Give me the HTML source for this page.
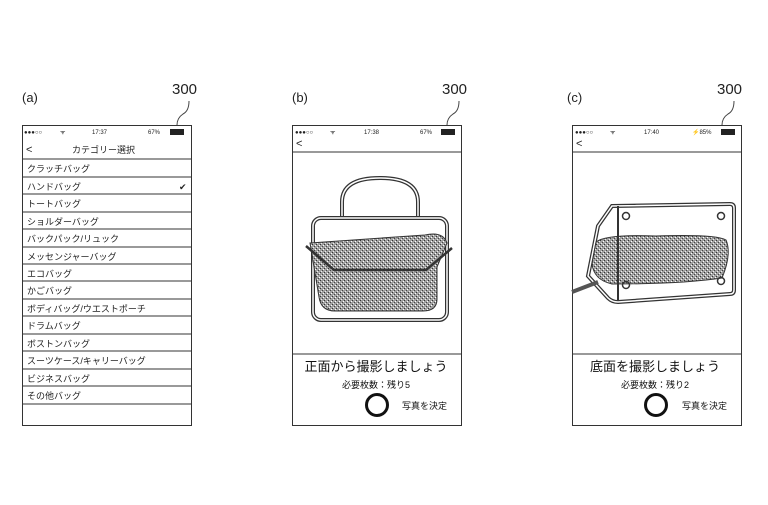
<!DOCTYPE html>
<html><head><meta charset="utf-8"><style>
html,body{margin:0;padding:0;background:#fff;}
svg{display:block;font-family:"Liberation Sans","Noto Sans CJK JP",sans-serif;}
</style></head><body>
<svg width="768" height="505" viewBox="0 0 768 505" xmlns="http://www.w3.org/2000/svg">
<defs>
<pattern id="st" width="4" height="4" patternUnits="userSpaceOnUse">
<rect width="4" height="4" fill="#a0a0a0"/><rect x="0" y="0" width="1" height="1" fill="#333"/><rect x="2" y="2" width="1" height="1" fill="#444"/><rect x="3" y="1" width="1" height="1" fill="#fff"/><rect x="1" y="3" width="1" height="1" fill="#eee"/>
</pattern>
</defs>
<g fill="#222" font-size="13">
<text x="22" y="102">(a)</text><text x="292" y="102">(b)</text><text x="567" y="102">(c)</text>
<text x="172" y="94" font-size="15">300</text><text x="442" y="94" font-size="15">300</text><text x="717" y="94" font-size="15">300</text>
</g>
<g fill="none" stroke="#444" stroke-width="1">
<path d="M189 101 q0 10 -6 13 q-6 4 -6 11"/>
<path d="M459 101 q0 10 -6 13 q-6 4 -6 11"/>
<path d="M734 101 q0 10 -6 13 q-6 4 -6 11"/>
</g>
<!-- phone a -->
<g stroke="#333" fill="none" stroke-width="1">
<rect x="22.5" y="125.5" width="169" height="300"/>
<line x1="22" y1="159" x2="191" y2="159"/><line x1="22" y1="177" x2="191" y2="177"/><line x1="22" y1="194" x2="191" y2="194"/><line x1="22" y1="212" x2="191" y2="212"/><line x1="22" y1="229" x2="191" y2="229"/><line x1="22" y1="247" x2="191" y2="247"/><line x1="22" y1="264" x2="191" y2="264"/><line x1="22" y1="281" x2="191" y2="281"/><line x1="22" y1="299" x2="191" y2="299"/><line x1="22" y1="316" x2="191" y2="316"/><line x1="22" y1="334" x2="191" y2="334"/><line x1="22" y1="351" x2="191" y2="351"/><line x1="22" y1="369" x2="191" y2="369"/><line x1="22" y1="386" x2="191" y2="386"/><line x1="22" y1="404" x2="191" y2="404"/>
</g>
<g fill="#222" font-size="6"><text x="24" y="134">●●●○○</text><text x="60" y="134">ᯤ</text><text x="92" y="134">17:37</text><text x="148" y="134">67%</text><rect x="170" y="129" width="14" height="6" fill="#222"/></g>
<g fill="#222" font-size="9">
<text x="26" y="153" font-size="11">&lt;</text><text x="72" y="153">カテゴリー選択</text>
<text x="27" y="172">クラッチバッグ</text><text x="27" y="190">ハンドバッグ</text><text x="179" y="190">✔</text>
<text x="27" y="207">トートバッグ</text><text x="27" y="225">ショルダーバッグ</text><text x="27" y="242">バックパック/リュック</text><text x="27" y="260">メッセンジャーバッグ</text><text x="27" y="277">エコバッグ</text><text x="27" y="294">かごバッグ</text><text x="27" y="312">ボディバッグ/ウエストポーチ</text><text x="27" y="329">ドラムバッグ</text><text x="27" y="347">ボストンバッグ</text><text x="27" y="364">スーツケース/キャリーバッグ</text><text x="27" y="382">ビジネスバッグ</text><text x="27" y="399">その他バッグ</text>
</g>
<!-- phone b -->
<g stroke="#333" fill="none"><rect x="292.5" y="125.5" width="169" height="300"/><line x1="292" y1="152" x2="461" y2="152"/><line x1="292" y1="354" x2="461" y2="354"/></g>
<g fill="#222" font-size="6"><text x="295" y="134">●●●○○</text><text x="330" y="134">ᯤ</text><text x="364" y="134">17:38</text><text x="420" y="134">67%</text><rect x="441" y="129" width="14" height="6"/></g>
<text x="296" y="147" font-size="11" fill="#222">&lt;</text>
<g stroke="#333" stroke-width="1.5" fill="none">
<path d="M342 220 v-18 q0 -24 38 -24 q38 0 38 24 v18" stroke-width="4"/><path d="M342 220 v-18 q0 -24 38 -24 q38 0 38 24 v18" stroke="#fff" stroke-width="1.5"/>
<rect x="313" y="218" width="134" height="102" rx="8" stroke-width="4"/><rect x="313" y="218" width="134" height="102" rx="8" stroke="#fff" stroke-width="1.5"/>
</g>
<path d="M310 243 l115 -8 q18 -4 22 8 l-10 24 v32 q0 12 -14 12 h-88 q-14 0 -16 -14 z" fill="url(#st)" stroke="#333"/>
<path d="M306 246 l28 24 h92 l26 -22" fill="none" stroke="#333" stroke-width="2.5"/>
<g fill="#111"><text x="376" y="371" font-size="13" text-anchor="middle">正面から撮影しましょう</text><text x="376" y="388" font-size="9" text-anchor="middle">必要枚数：残り5</text><text x="402" y="409" font-size="9">写真を決定</text></g>
<circle cx="377" cy="405" r="10.5" fill="none" stroke="#111" stroke-width="3"/>
<!-- phone c -->
<g stroke="#333" fill="none"><rect x="572.5" y="125.5" width="169" height="300"/><line x1="572" y1="152" x2="741" y2="152"/><line x1="572" y1="354" x2="741" y2="354"/></g>
<g fill="#222" font-size="6"><text x="575" y="134">●●●○○</text><text x="610" y="134">ᯤ</text><text x="644" y="134">17:40</text><text x="692" y="134">⚡85%</text><rect x="721" y="129" width="14" height="6"/></g>
<text x="576" y="147" font-size="11" fill="#222">&lt;</text>
<g fill="none" stroke="#333" stroke-width="4"><path d="M612 206 l118 -2 q4 0 4 4 v82 q0 4 -4 4 l-112 8 q-6 0 -10 -4 l-20 -22 l10 -50 z"/></g>
<g fill="none" stroke="#fff" stroke-width="1.5"><path d="M612 206 l118 -2 q4 0 4 4 v82 q0 4 -4 4 l-112 8 q-6 0 -10 -4 l-20 -22 l10 -50 z"/></g>
<path d="M596 242 q10 -8 60 -6 q60 -2 70 4 q6 14 -4 38 q-40 6 -110 6 q-18 -4 -20 -20 z" fill="url(#st)" stroke="#333"/>
<path d="M572 292 l26 -10" stroke="#555" stroke-width="4"/>
<line x1="618" y1="206" x2="618" y2="300" stroke="#333" stroke-width="2"/>
<g fill="none" stroke="#333" stroke-width="1.5"><circle cx="626" cy="216" r="3.5"/><circle cx="721" cy="216" r="3.5"/><circle cx="626" cy="285" r="3.5"/><circle cx="721" cy="281" r="3.5"/></g>
<g fill="#111"><text x="655" y="371" font-size="13" text-anchor="middle">底面を撮影しましょう</text><text x="655" y="388" font-size="9" text-anchor="middle">必要枚数：残り2</text><text x="682" y="409" font-size="9">写真を決定</text></g>
<circle cx="656" cy="405" r="10.5" fill="none" stroke="#111" stroke-width="3"/>
</svg>
</body></html>
